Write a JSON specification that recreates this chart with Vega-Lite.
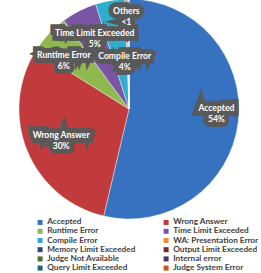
{
  "$schema": "https://vega.github.io/schema/vega-lite/v6.json",
  "autosize": {"type": "none"},
  "padding": {"left": 19, "top": 0, "right": 22, "bottom": 55},
  "width": 220,
  "height": 218,
  "background": "white",
  "config": {"view": {"stroke": null}},
  "data": {
    "values": [
      {"idx": 1, "cat": "Accepted", "value": 53.7, "label": "Accepted\n54%"},
      {"idx": 2, "cat": "Wrong Answer", "value": 30.2, "label": "Wrong Answer\n30%"},
      {"idx": 3, "cat": "Runtime Error", "value": 6.0, "label": "Runtime Error\n6%"},
      {"idx": 4, "cat": "Time Limit Exceeded", "value": 5.2, "label": "Time Limit Exceeded\n5%"},
      {"idx": 5, "cat": "Compile Error", "value": 4.3, "label": "Compile Error\n4%"},
      {"idx": 6, "cat": "WA: Presentation Error", "value": 0.3, "label": "Others\n<1"},
      {"idx": 7, "cat": "Memory Limit Exceeded", "value": 0.1, "label": ""},
      {"idx": 8, "cat": "Output Limit Exceeded", "value": 0.08, "label": ""},
      {"idx": 9, "cat": "Judge Not Available", "value": 0.05, "label": ""},
      {"idx": 10, "cat": "Internal error", "value": 0.03, "label": ""},
      {"idx": 11, "cat": "Query Limit Exceeded", "value": 0.02, "label": ""},
      {"idx": 12, "cat": "Judge System Error", "value": 0.02, "label": ""}
    ]
  },
  "encoding": {
    "theta": {"field": "value", "type": "quantitative", "stack": true},
    "order": {"field": "idx", "type": "quantitative"}
  },
  "layer": [
    {
      "mark": {"type": "arc", "radius": 110, "stroke": "white", "strokeWidth": 0.4},
      "encoding": {
        "color": {
          "field": "cat",
          "type": "nominal",
          "sort": null,
          "scale": {
            "domain": ["Accepted", "Wrong Answer", "Runtime Error", "Time Limit Exceeded", "Compile Error", "WA: Presentation Error", "Memory Limit Exceeded", "Output Limit Exceeded", "Judge Not Available", "Internal error", "Query Limit Exceeded", "Judge System Error"],
            "range": ["#3672C0", "#C23B3C", "#8FB94F", "#7A55A6", "#2EADCE", "#EE8A3A", "#284878", "#7A2828", "#4F6E2A", "#4A3068", "#1F6776", "#C45A1A"]
          },
          "legend": {
            "title": null,
            "orient": "none",
            "legendX": 17,
            "legendY": 218,
            "columns": 2,
            "direction": "horizontal",
            "columnPadding": 26,
            "rowPadding": 0.2,
            "padding": 0,
            "symbolType": "square",
            "symbolSize": 25,
            "symbolStrokeWidth": 0,
            "labelFont": "Lato",
            "labelFontWeight": "bold",
            "labelFontSize": 8.2,
            "labelColor": "#404040",
            "labelOffset": 3,
            "labelLimit": 200
          }
        }
      }
    },
    {
      "mark": {
        "type": "text",
        "radius": {"expr": "datum.cat == 'Compile Error' ? 48 : (datum.cat == 'WA: Presentation Error' ? 93 : (datum.cat == 'Accepted' ? 88 : 82))"},
        "dx": {"expr": "datum.cat == 'Runtime Error' ? -5 : (datum.cat == 'Wrong Answer' ? 8 : (datum.cat == 'Compile Error' ? 4 : (datum.cat == 'Time Limit Exceeded' ? 3 : 0)))"},
        "dy": {"expr": "datum.cat == 'Runtime Error' ? 1.5 : (datum.cat == 'Accepted' ? -11.5 : (datum.cat == 'Time Limit Exceeded' ? -2.5 : -5.5))"},
        "font": "Lato",
        "fontWeight": "bold",
        "fontSize": 8.6,
        "lineBreak": "\n",
        "lineHeight": 11,
        "align": "center",
        "baseline": "middle",
        "fill": "#595959",
        "stroke": "#595959",
        "strokeWidth": 9.5,
        "strokeJoin": "miter"
      },
      "encoding": {"text": {"field": "label", "type": "nominal"}}
    },
    {
      "mark": {
        "type": "text",
        "radius": {"expr": "datum.cat == 'Compile Error' ? 48 : (datum.cat == 'WA: Presentation Error' ? 93 : (datum.cat == 'Accepted' ? 88 : 82))"},
        "dx": {"expr": "datum.cat == 'Runtime Error' ? -5 : (datum.cat == 'Wrong Answer' ? 8 : (datum.cat == 'Compile Error' ? 4 : (datum.cat == 'Time Limit Exceeded' ? 3 : 0)))"},
        "dy": {"expr": "datum.cat == 'Runtime Error' ? 1.5 : (datum.cat == 'Accepted' ? -11.5 : (datum.cat == 'Time Limit Exceeded' ? -2.5 : -5.5))"},
        "font": "Lato",
        "fontWeight": "bold",
        "fontSize": 8.6,
        "lineBreak": "\n",
        "lineHeight": 11,
        "align": "center",
        "baseline": "middle",
        "fill": "white"
      },
      "encoding": {"text": {"field": "label", "type": "nominal"}}
    }
  ]
}
